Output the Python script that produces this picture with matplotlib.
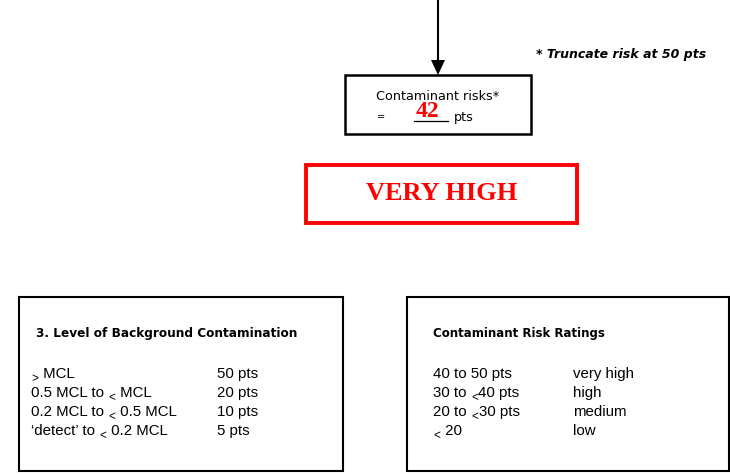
import matplotlib
matplotlib.use("Agg")
import matplotlib.pyplot as plt
from matplotlib.patches import Rectangle
from matplotlib.lines import Line2D

W, H = 730, 474

# ---- data ----
score = 42
rating = "VERY HIGH"
note = "* Truncate risk at 50 pts"
bg_title = "3. Level of Background Contamination"
bg_levels = ["\u2265 MCL", "0.5 MCL to \u2264 MCL", "0.2 MCL to \u2264 0.5 MCL", "\u2018detect\u2019 to \u2264 0.2 MCL"]
bg_points = ["50 pts", "20 pts", "10 pts", "5 pts"]
rr_title = "Contaminant Risk Ratings"
rr_ranges = ["40 to 50 pts", "30 to \u226440 pts", "20 to \u226430 pts", "\u2264 20"]
rr_labels = ["very high", "high", "medium", "low"]

fig = plt.figure(figsize=(W / 100, H / 100), dpi=100)
ax = fig.add_axes([0, 0, 1, 1])
ax.set_xlim(0, W)
ax.set_ylim(H, 0)
ax.axis("off")
renderer = fig.canvas.get_renderer()

FS = 9.2
RS = 10.8
ROWF = "Liberation Sans"
SYM = {"\u2264": "<", "\u2265": ">"}


def row_text(x, y, s):
    """Draw s with baseline y; the old-style 'underlined' < / > are drawn lowered."""
    pieces, buf = [], ""
    for ch in s:
        if ch in SYM:
            if buf:
                pieces.append((buf, False))
                buf = ""
            pieces.append((SYM[ch], True))
        else:
            buf += ch
    if buf:
        pieces.append((buf, False))
    for txt, low in pieces:
        if low:
            t = ax.text(x + 0.5, y + 4, txt, ha="left", va="baseline", fontsize=8.5, family=ROWF)
            w = t.get_window_extent(renderer).width + 1
        else:
            t = ax.text(x, y, txt, ha="left", va="baseline", fontsize=RS, family=ROWF)
            w = t.get_window_extent(renderer).width
        x += w


# arrow
ax.add_line(Line2D([438, 438], [0, 62], color="black", lw=1.5))
ax.fill([431, 445, 438], [60, 60, 75], color="black", lw=0)

# score box
ax.add_patch(Rectangle((345, 75), 186, 59, fill=False, ec="black", lw=1.8))
ax.text(438, 96, "Contaminant risks*", ha="center", va="center", fontsize=FS, family="DejaVu Sans")
ax.text(381, 117, "=", ha="center", va="center", fontsize=7, family="DejaVu Sans")
ax.add_line(Line2D([414, 448], [120.5, 120.5], color="black", lw=0.9))
ax.text(427, 111, str(score), ha="center", va="center", fontsize=17, color="red",
        fontweight="bold", family="Liberation Serif")
ax.text(454, 117, "pts", ha="left", va="center", fontsize=FS, family="DejaVu Sans")

ax.text(536, 54, note, ha="left", va="center", fontsize=9, fontweight="bold",
        fontstyle="italic", family="DejaVu Sans")

# rating box
ax.add_patch(Rectangle((306, 165), 271, 58, fill=False, ec="red", lw=2.8))
ax.text(442, 193, rating, ha="center", va="center", fontsize=19, color="red",
        fontweight="bold", family="Liberation Serif")

row_base = [378, 397, 416, 435]

# left table box
ax.add_patch(Rectangle((19, 297), 324, 174, fill=False, ec="black", lw=1.5))
ax.text(36, 334, bg_title, ha="left", va="center", fontsize=8.7, fontweight="bold", family="DejaVu Sans")
for yv, lab, pts in zip(row_base, bg_levels, bg_points):
    row_text(31, yv, lab)
    row_text(217, yv, pts)

# right table box
ax.add_patch(Rectangle((407, 297), 322, 174, fill=False, ec="black", lw=1.5))
ax.text(433, 334, rr_title, ha="left", va="center", fontsize=8.5, fontweight="bold", family="DejaVu Sans")
for yv, rng, lab in zip(row_base, rr_ranges, rr_labels):
    row_text(433, yv, rng)
    row_text(573, yv, lab)

fig.savefig("out.png", dpi=100)
